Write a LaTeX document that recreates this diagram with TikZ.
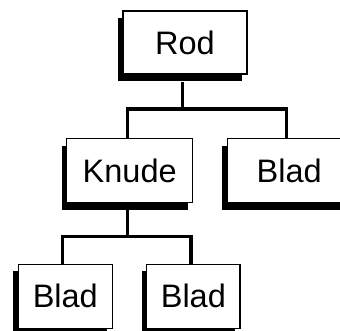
\documentclass[tikz,border=0pt]{standalone}
\usepackage{fontspec}
\setmainfont{Liberation Sans}
\usetikzlibrary{shadows,calc}
\begin{document}
\begin{tikzpicture}[x=1pt,y=1pt,
  treebox/.style={draw=black, line width=1.2pt, fill=white, inner sep=0pt,
    minimum height=64pt,
    general shadow={fill=black, shadow xshift=-5pt, shadow yshift=-7pt},
    font=\fontsize{32.5}{39}\selectfont},
  conn/.style={line width=3.3pt}]
\clip (0,0) rectangle (340,330);
\useasboundingbox (0,0) rectangle (340,330);
\node[treebox, minimum width=124pt, minimum height=63pt] (rod) at (185,287.5) {Rod};
\node[treebox, minimum width=126pt] (knude) at (129.7,159.5) {Knude};
\node[treebox, minimum width=124pt] (bladr) at (289.2,159.5) {Blad};
\node[treebox, minimum width=94pt] (bladl) at (65.3,33.7) {Blad};
\node[treebox, minimum width=93.3pt] (bladm) at (193.35,33.7) {Blad};
\coordinate (j1) at (182.5,221);
\coordinate (j2) at (127.2,93.3);
\draw[conn] ([xshift=-2.5pt,yshift=-7pt]rod.south) -- (j1);
\draw[conn] ([xshift=-2.5pt]knude.north) |- (j1) -| ([xshift=-2.5pt]bladr.north);
\draw[conn] ([xshift=-2.5pt,yshift=-7pt]knude.south) -- (j2);
\draw[conn] ([xshift=-2.5pt]bladl.north) |- (j2) -| ([xshift=-2.5pt]bladm.north);
\end{tikzpicture}
\end{document}
